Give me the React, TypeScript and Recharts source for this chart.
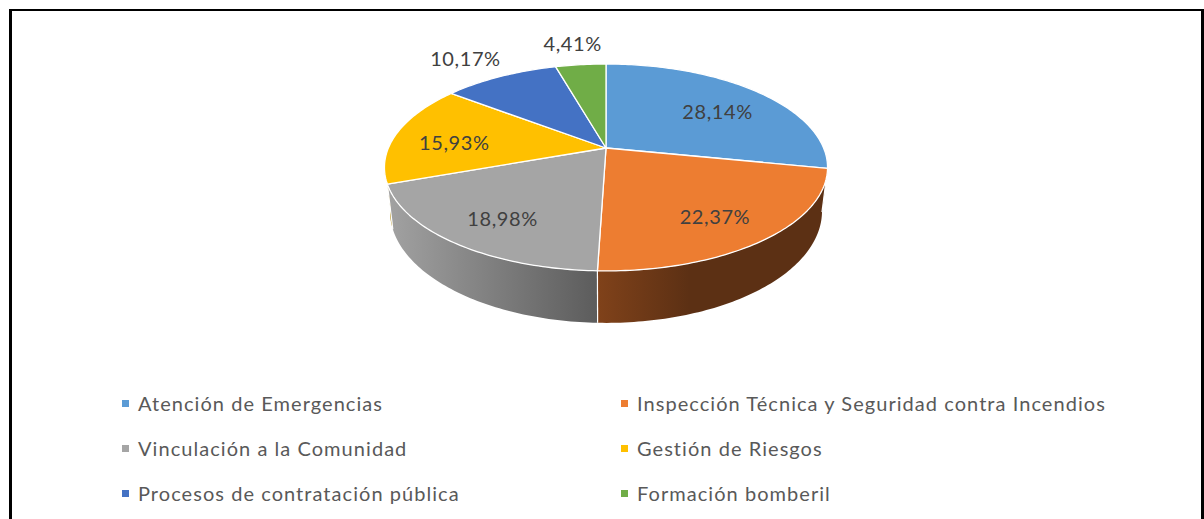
import React from 'react';
import { PieChart, Pie, Legend } from 'recharts';

const categories = [
  'Atención de Emergencias',
  'Inspección Técnica y Seguridad contra Incendios',
  'Vinculación a la Comunidad',
  'Gestión de Riesgos',
  'Procesos de contratación pública',
  'Formación bomberil',
];
const values = [28.14, 22.37, 18.98, 15.93, 10.17, 4.41];
const colors = ['#5B9BD5', '#ED7D31', '#A5A5A5', '#FFC000', '#4472C4', '#70AD47'];
// side wall shading, light (left) to dark (right)
const sideColors = [
  ['#41709c', '#2f5377'],
  ['#80421a', '#5c3014'],
  ['#a2a2a2', '#5c5c5c'],
  ['#c99a00', '#a07b00'],
  ['#33568f', '#26406b'],
  ['#52803a', '#3d602b'],
];

const data = categories.map((name, i) => ({ name, value: values[i] }));

// 3D look: perspective ellipse around the pie apex
const CX = 606;
const CY = 148;
const RX = 217.6;
const RY = 99.8;
const PERSP = 0.188;
const DEPTH = 42.2;
const BOTTOM_SX = 0.975;
const SIDE_FROM = 100;
const SIDE_TO = 262;

const project = (theta: number, r = 1, bottom = false) => {
  const t = (theta * Math.PI) / 180;
  const s = Math.sin(t);
  const c = Math.cos(t);
  const den = 1 + PERSP * r * c;
  const x = CX + ((RX * r * s) / den) * (bottom ? BOTTOM_SX : 1);
  const y = CY - (RY * r * c) / den + (bottom ? DEPTH / den : 0);
  return [x, y];
};

const arc = (from: number, to: number, bottom = false) => {
  const steps = Math.max(2, Math.ceil(Math.abs(to - from)));
  const pts: number[][] = [];
  for (let k = 0; k <= steps; k++) {
    pts.push(project(from + ((to - from) * k) / steps, 1, bottom));
  }
  return pts;
};

const toPath = (pts: number[][]) =>
  pts.map((p, k) => `${k === 0 ? 'M' : 'L'}${p[0].toFixed(2)},${p[1].toFixed(2)}`).join(' ') + ' Z';

// recharts angles are ccw from 3 o'clock, theta here is cw from 12 o'clock
const thetas = (props: any) => [90 - props.startAngle, 90 - props.endAngle];

const renderSide = (props: any) => {
  const [t0, t1] = thetas(props);
  const a = Math.max(t0, SIDE_FROM);
  const b = Math.min(t1, SIDE_TO);
  if (b <= a) return <g key={`side-${props.index}`} />;
  const pts = [...arc(a, b), ...arc(b, a, true)];
  const id = `side-grad-${props.index}`;
  const [light, dark] = sideColors[props.index];
  const edgeTop = project(t0);
  const edgeBottom = project(t0, 1, true);
  return (
    <g key={`side-${props.index}`}>
      <defs>
        <linearGradient id={id} x1='0' y1='0' x2='1' y2='0'>
          <stop offset='0%' stopColor={light} />
          <stop offset={props.index === 1 ? '40%' : '100%'} stopColor={dark} />
          <stop offset='100%' stopColor={dark} />
        </linearGradient>
      </defs>
      <path d={toPath(pts)} fill={`url(#${id})`} stroke='none' />
      {t0 >= SIDE_FROM && t0 <= SIDE_TO && (
        <line
          x1={edgeTop[0]}
          y1={edgeTop[1]}
          x2={edgeBottom[0]}
          y2={edgeBottom[1]}
          stroke='#ffffff'
          strokeWidth={1.2}
        />
      )}
    </g>
  );
};

const renderTop = (props: any) => {
  const [t0, t1] = thetas(props);
  const pts = [[CX, CY], ...arc(t0, t1)];
  return (
    <path
      key={`top-${props.index}`}
      d={toPath(pts)}
      fill={colors[props.index]}
      stroke='#ffffff'
      strokeWidth={1.3}
      strokeLinejoin='round'
    />
  );
};

const renderText = (props: any) => {
  const [t0, t1] = thetas(props);
  const mid = (t0 + t1) / 2;
  const outside = props.percent < 0.12;
  const [x, y] = project(mid, outside ? 1.4 : 0.72);
  const label = (props.percent * 100).toFixed(2).replace('.', ',') + '%';
  return (
    <text
      key={`txt-${props.index}`}
      x={x}
      y={outside ? y + 5 : y + 5}
      textAnchor='middle'
      dominantBaseline='central'
      fill='#404040'
      fontSize={20}
      letterSpacing={0.6}
      fontFamily='Lato, sans-serif'
    >
      {label}
    </text>
  );
};

const legendX = [122, 621];
const legendY = [23, 68, 113];

const renderLegend = () => (
  <div style={{ position: 'relative', width: 1204, height: 135, fontFamily: 'Lato, sans-serif' }}>
    {categories.map((name, i) => (
      <div
        key={name}
        style={{
          position: 'absolute',
          left: legendX[i % 2],
          top: legendY[Math.floor(i / 2)] - 12,
          height: 24,
          display: 'flex',
          alignItems: 'center',
          whiteSpace: 'nowrap',
          fontSize: 20,
          letterSpacing: 1.05,
          color: '#595959',
        }}
      >
        <span
          style={{
            display: 'inline-block',
            width: 7,
            height: 7,
            background: colors[i],
            marginRight: 9,
          }}
        />
        {name}
      </div>
    ))}
  </div>
);

const App: React.FC = () => {
  const pieProps = {
    data,
    dataKey: 'value',
    nameKey: 'name',
    cx: CX,
    cy: CY,
    outerRadius: RY,
    startAngle: 90,
    endAngle: -270,
    fill: 'none',
    stroke: 'none',
    labelLine: false,
    isAnimationActive: false,
  };
  return (
    <div style={{ position: 'absolute', left: 0, top: 0, width: 1204, height: 519, background: '#fff', overflow: 'hidden' }}>
      <div
        style={{
          position: 'absolute',
          left: 9,
          top: 9,
          width: 1189,
          height: 530,
          borderLeft: '3px solid #000',
          borderTop: '2px solid #000',
          borderRight: '3px solid #000',
        }}
      />
      <div style={{ position: 'absolute', left: 0, top: 0 }}>
        <PieChart width={1204} height={519} margin={{ top: 0, right: 0, bottom: 0, left: 0 }}>
          <Pie {...pieProps} label={renderSide} legendType='none' />
          <Pie {...pieProps} label={renderTop} legendType='none' />
          <Pie {...pieProps} label={renderText} legendType='square' />
          <Legend
            content={renderLegend}
            wrapperStyle={{ position: 'absolute', left: 0, top: 380, width: 1204 }}
          />
        </PieChart>
      </div>
    </div>
  );
};

export default App;
